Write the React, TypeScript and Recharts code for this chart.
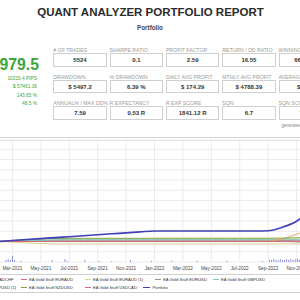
import React from 'react';
import { ComposedChart, Line, Bar, XAxis, YAxis, CartesianGrid } from 'recharts';

// equity points per month, month 1 = Feb-2021
const months = [1, 2, 3, 4, 5, 6, 7, 8, 9, 10, 11, 12, 13, 14, 15, 16, 17, 18, 19, 20, 21, 22, 23];
const portfolio = [0, 950, 1900, 2850, 3800, 4700, 5650, 6550, 7500, 8400, 9350, 10250, 10250, 10250, 10260, 10260, 10270, 10270, 10290, 10500, 13900, 19800, 31000];
const cadchf = [0, -50, -100, -100, -120, -120, -100, -100, -100, -100, -100, -100, -100, -100, -100, -100, -100, -100, -100, -100, -150, -200, -250];
const euraud = [0, 50, 100, 100, 80, 80, 100, 100, 100, 100, 100, 100, 100, 100, 100, 100, 100, 100, 100, 200, 500, 400, 300];
const euraud1 = [0, -700, -1400, -2000, -2400, -2400, -2400, -2400, -2400, -2400, -2400, -2400, -2400, -2400, -2400, -2400, -2400, -2400, -2400, -2400, -2400, -2350, -2300];
const eurusd = [0, 400, 800, 1100, 1200, 1200, 1200, 1200, 1200, 1200, 1200, 1200, 1200, 1200, 1200, 1200, 1200, 1200, 1200, 1200, 1250, 1300, 1350];
const gbpusd = [0, 300, 700, 1200, 1700, 2100, 2100, 2100, 2100, 2100, 2100, 2100, 2100, 2100, 2100, 2100, 2100, 2100, 2100, 2100, 2150, 2200, 2200];
const gbpusd1 = [0, 0, 0, 0, 0, 0, 0, 0, 0, 0, 0, 0, 0, 0, 0, 0, 0, 0, 0, 100, 2500, 7000, 12000];
const nzdusd = [0, 900, 1800, 2500, 3000, 3100, 3100, 3100, 3100, 3100, 3100, 3100, 3100, 3100, 3100, 3100, 3100, 3100, 3100, 3150, 3300, 3600, 4000];
const usdcad = [0, 0, 0, 0, 0, 0, 0, 0, 0, 0, 0, 0, 0, 0, 0, 0, 0, 0, 0, 0, 300, -200, -600];

// small trade spikes along the bottom
const tradeMonths = [1.55, 1.7, 1.85, 2.0, 2.15, 2.6, 4.8, 5.7, 5.9, 7.1, 8.1, 9.0, 10.3, 11.8, 13.2, 15.0, 17.1, 19.6, 20.1, 20.25, 20.4, 20.55, 20.7, 20.85, 21.0, 21.15, 21.3, 21.45, 21.6, 21.75, 21.9, 22.05, 22.2];
const tradeCounts = [2, 3, 2, 6, 2, 1, 2, 3, 1, 2, 1, 1, 2, 1, 1, 1, 1, 1, 2, 2, 3, 2, 2, 3, 2, 2, 3, 2, 3, 2, 3, 3, 2];

const tickMonths = [2, 4, 6, 8, 10, 12, 14, 16, 18, 20, 22];
const tickLabels = ['Mar-2021', 'May-2021', 'Jul-2021', 'Sep-2021', 'Nov-2021', 'Jan-2022', 'Mar-2022', 'May-2022', 'Jul-2022', 'Sep-2022', 'Nov-2022'];
const yTicks = [-20000, -10000, 0, 10000, 20000, 30000, 40000, 50000, 60000, 70000, 80000, 90000, 100000];

const seriesNames = ['EA Gold Stuff CADCHF', 'EA Gold Stuff EURAUD', 'EA Gold Stuff EURAUD (1)', 'EA Gold Stuff EURUSD', 'EA Gold Stuff GBPUSD', 'EA Gold Stuff GBPUSD (1)', 'EA Gold Stuff NZDUSD', 'EA Gold Stuff USDCAD', 'Portfolio'];
const seriesKeys = ['cadchf', 'euraud', 'euraud1', 'eurusd', 'gbpusd', 'gbpusd1', 'nzdusd', 'usdcad', 'portfolio'];
const seriesColors = ['#a9a0c8', '#d96b86', '#d9d38c', '#9a8c84', '#7fc8b6', '#e8a662', '#8d9c3a', '#cf6f7c', '#3f3fb8'];
const seriesValues = [cadchf, euraud, euraud1, eurusd, gbpusd, gbpusd1, nzdusd, usdcad, portfolio];

const statLabels = [
  ['# OF TRADES', 'SHARPE RATIO', 'PROFIT FACTOR', 'RETURN / DD RATIO', 'WINNING %'],
  ['DRAWDOWN', '% DRAWDOWN', 'DAILY AVG PROFIT', 'MTHLY AVG PROFIT', 'AVERAGE TRADE'],
  ['ANNUAL% / MAX DD%', 'R EXPECTANCY', 'R EXP SCORE', 'SQN', 'SQN SCORE'],
];
const statValues = [
  ['5524', '0.1', '2.59', '16.55', '66.91 %'],
  ['$ 5497.2', '6.39 %', '$ 174.29', '$ 4788.39', '$ 10.4'],
  ['7.59', '0.53 R', '1841.12 R', '6.7', '7.13'],
];
const profitMain = '979.5';
const profitLines = ['10315.4 PIPS', '$ 57461.36', '143.65 %', '48.5 %'];

const rows = [
  ...months.map((m, i) => {
    const row: Record<string, number> = { m };
    seriesKeys.forEach((k, s) => {
      row[k] = seriesValues[s][i];
    });
    return row;
  }),
  ...tradeMonths.map((m, i) => ({ m, trades: tradeCounts[i] } as Record<string, number>)),
].sort((a, b) => a.m - b.m);

const font = '"Liberation Sans", Arial, Helvetica, sans-serif';
const green = '#3aa53a';

// legend layout (x of each item's marker), two rows
const legendX = [-38, 21, 85, 155, 213, -42, 21, 85, 143];
const legendRowY = [279, 287.3];

const abs = (left: number, top: number, extra: React.CSSProperties = {}): React.CSSProperties => ({
  position: 'absolute',
  left,
  top,
  whiteSpace: 'nowrap',
  ...extra,
});

export default function App() {
  return (
    <div
      style={{
        position: 'fixed',
        left: 0,
        top: 0,
        width: 300,
        height: 300,
        overflow: 'hidden',
        background: '#fff',
        fontFamily: font,
      }}
    >
      <div style={abs(0, 5, { width: 301, textAlign: 'center', fontSize: 11.5, fontWeight: 700, color: '#2b2b2b', lineHeight: '15px' })}>
        QUANT ANALYZER PORTFOLIO REPORT
      </div>
      <div style={abs(0, 24, { width: 300, textAlign: 'center', fontSize: 6.3, fontWeight: 700, color: '#444', lineHeight: '8px' })}>
        Portfolio
      </div>

      {/* profit summary on the left */}
      <div style={abs(-61, 56, { width: 100, textAlign: 'right', fontSize: 15.8, fontWeight: 700, color: green, lineHeight: '18px' })}>
        {profitMain}
      </div>
      {profitLines.map((t, i) => (
        <div key={t} style={abs(-63, 75.5 + i * 8.55, { width: 100, textAlign: 'right', fontSize: 4.8, color: green, lineHeight: '6px' })}>
          {t}
        </div>
      ))}

      {/* stat boxes */}
      {statLabels.map((labels, r) =>
        labels.map((label, c) => {
          const left = 53.3 + c * 56.3;
          const top = 53.3 + r * 26.5;
          return (
            <React.Fragment key={label}>
              <div style={abs(left, top - 6.2, { fontSize: 5.2, color: '#9a9a9a', lineHeight: '6px' })}>{label}</div>
              <div
                style={abs(left, top, {
                  width: 53.5,
                  height: 13.5,
                  boxSizing: 'border-box',
                  border: '1px solid #cfcfcf',
                  fontSize: 6,
                  fontWeight: 700,
                  color: '#333',
                  display: 'flex',
                  alignItems: 'center',
                  justifyContent: 'center',
                })}
              >
                {statValues[r][c]}
              </div>
            </React.Fragment>
          );
        })
      )}
      <div style={abs(281.5, 122.5, { fontSize: 4.5, color: '#888', lineHeight: '5px' })}>generated by QuantAnalyzer</div>

      {/* chart panel border */}
      <div style={abs(0, 137, { width: 300, height: 1, background: '#d4d4d4' })} />
      <div style={abs(0, 140, { width: 300, height: 1, background: '#e6e6e6' })} />

      <div style={abs(-16.4, 139)}>
        <ComposedChart width={341} height={137} data={rows} margin={{ top: 0, right: 0, bottom: 0, left: 0 }}>
          <CartesianGrid yAxisId="v" stroke="#ece9f1" />
          <XAxis
            dataKey="m"
            type="number"
            domain={[0, 24]}
            ticks={tickMonths}
            interval={0}
            tickFormatter={(v: number) => tickLabels[tickMonths.indexOf(v)] ?? ''}
            axisLine={false}
            tickLine={false}
            tickSize={0}
            tickMargin={5}
            height={14}
            tick={{ fontSize: 4.7, fill: '#444', fontFamily: font }}
          />
          <YAxis yAxisId="v" type="number" hide domain={[-20000, 100000]} ticks={yTicks} interval={0} allowDataOverflow />
          <YAxis yAxisId="t" type="number" hide orientation="right" domain={[0, 120]} allowDataOverflow />
          <Bar yAxisId="t" dataKey="trades" fill="#5a5ac8" barSize={1} isAnimationActive={false} />
          {seriesKeys.map((k, s) => (
            <Line
              key={k}
              yAxisId="v"
              dataKey={k}
              type={k === 'portfolio' ? 'monotone' : 'linear'}
              stroke={seriesColors[s]}
              strokeWidth={k === 'portfolio' ? 1.6 : 1}
              dot={false}
              connectNulls
              isAnimationActive={false}
            />
          ))}
        </ComposedChart>
      </div>

      {/* legend */}
      <div style={abs(0, 274, { width: 300, height: 1, background: '#cfcfcf' })} />
      <div style={abs(0, 292, { width: 300, height: 1, background: '#cfcfcf' })} />
      {seriesNames.map((name, i) => {
        const y = legendRowY[i < 5 ? 0 : 1];
        const isPortfolio = name === 'Portfolio';
        return (
          <div key={name} style={abs(legendX[i], y - 3, { height: 6, display: 'flex', alignItems: 'center', fontSize: 4.2, color: '#333' })}>
            <span
              style={{
                display: 'inline-block',
                width: isPortfolio ? 7 : 5.5,
                height: isPortfolio ? 1.6 : 1,
                background: seriesColors[i],
                marginRight: 2.5,
              }}
            />
            {name}
          </div>
        );
      })}
    </div>
  );
}
